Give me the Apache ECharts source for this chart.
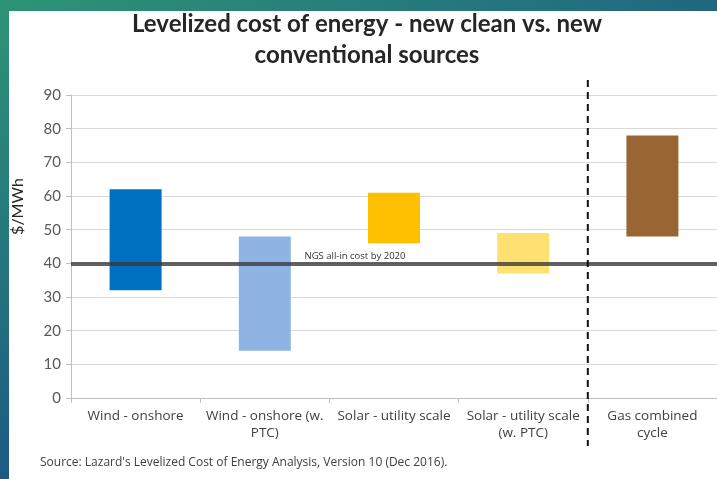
<!DOCTYPE html>
<html>
<head>
<meta charset="utf-8">
<script src="https://cdn.jsdelivr.net/npm/echarts@6/dist/echarts.min.js"></script>
<style>
html,body{margin:0;padding:0;}
#c{width:717px;height:479px;}
</style>
</head>
<body>
<div id="c"></div>
<script>
var categories = ['Wind - onshore', 'Wind - onshore (w.\nPTC)', 'Solar - utility scale', 'Solar - utility scale\n(w. PTC)', 'Gas combined\ncycle'];
var lowValues = [32, 14, 46, 37, 48];
var highValues = [62, 48, 61, 49, 78];
var barColors = ['#0070C0', '#8DB4E2', '#FFC000', '#FFE071', '#996633'];
var ngsValue = 40;
var yTicks = [0, 10, 20, 30, 40, 50, 60, 70, 80, 90];

var chart = echarts.init(document.getElementById('c'));
var fontFam = 'Lato, "Open Sans", sans-serif';
var labFam = '"Open Sans", Lato, sans-serif';

var option = {
  animation: false,
  backgroundColor: 'transparent',
  title: {
    text: 'Levelized cost of energy - new clean vs. new\nconventional sources',
    left: 362, textAlign: 'center', top: 4,
    textStyle: { fontFamily: fontFam, fontWeight: 'bold', fontSize: 24, color: '#262626', lineHeight: 31 }
  },
  grid: { left: 71, right: -8, top: 95, bottom: 81 },
  xAxis: {
    type: 'category',
    data: categories,
    axisLine: { lineStyle: { color: '#BFBFBF', width: 1 } },
    axisTick: { show: true, length: 5, lineStyle: { color: '#BFBFBF' } },
    axisLabel: { color: '#404040', fontFamily: labFam, fontSize: 13.5, lineHeight: 17, margin: 10, interval: 0 }
  },
  yAxis: {
    type: 'value', min: yTicks[0], max: yTicks[yTicks.length - 1], interval: 10,
    name: '$/MWh', nameLocation: 'middle', nameGap: 45, nameRotate: 90,
    nameTextStyle: { color: '#262626', fontFamily: fontFam, fontSize: 16, padding: [0, 0, 0, 80] },
    axisLine: { show: true, lineStyle: { color: '#BFBFBF' } },
    axisTick: { show: true, length: 5, lineStyle: { color: '#BFBFBF' } },
    axisLabel: { color: '#595959', fontFamily: fontFam, fontSize: 15, margin: 10 },
    splitLine: { lineStyle: { color: '#D9D9D9', width: 1 } }
  },
  series: [
    {
      type: 'bar', stack: 'range', barWidth: 52, silent: true,
      itemStyle: { color: 'transparent' },
      data: lowValues
    },
    {
      type: 'bar', stack: 'range', barWidth: 52,
      data: highValues.map(function (h, i) {
        return { value: h - lowValues[i], itemStyle: { color: barColors[i] } };
      }),
      markLine: {
        silent: true, symbol: 'none',
        lineStyle: { color: 'rgba(55,55,55,0.78)', width: 4, type: 'solid' },
        label: {
          show: true, position: 'insideMiddleTop', formatter: 'NGS all-in cost by 2020',
          color: '#333', fontSize: 9.5, fontFamily: labFam, offset: [-39, 0], distance: 2
        },
        data: [{ yAxis: ngsValue }]
      },
      z: 2
    }
  ]
};
chart.setOption(option);

var x3 = chart.convertToPixel({ xAxisIndex: 0 }, categories[3]);
var x4 = chart.convertToPixel({ xAxisIndex: 0 }, categories[4]);
var xd = (x3 + x4) / 2;

chart.setOption({
  graphic: [
    {
      type: 'rect', z: -10, silent: true,
      shape: { x: 0, y: 0, width: 717, height: 479 },
      style: {
        fill: new echarts.graphic.LinearGradient(0, 0, 0.35, 1, [
          { offset: 0, color: '#2E9475' },
          { offset: 0.5, color: '#23707F' },
          { offset: 1, color: '#1B4A86' }
        ])
      }
    },
    {
      type: 'rect', z: -9, silent: true,
      shape: { x: 9, y: 11, width: 708, height: 468 },
      style: { fill: '#FFFFFF' }
    },
    {
      type: 'line', z: 10, silent: true,
      shape: { x1: xd, y1: 80, x2: xd, y2: 446 },
      style: { stroke: '#111', lineWidth: 2, lineDash: [7, 5] }
    },
    {
      type: 'text', z: 10, silent: true, left: 40, top: 457,
      style: { text: "Source: Lazard's Levelized Cost of Energy Analysis, Version 10 (Dec 2016).", fill: '#404040', font: '12px ' + labFam }
    }
  ]
});
</script>
</body>
</html>
